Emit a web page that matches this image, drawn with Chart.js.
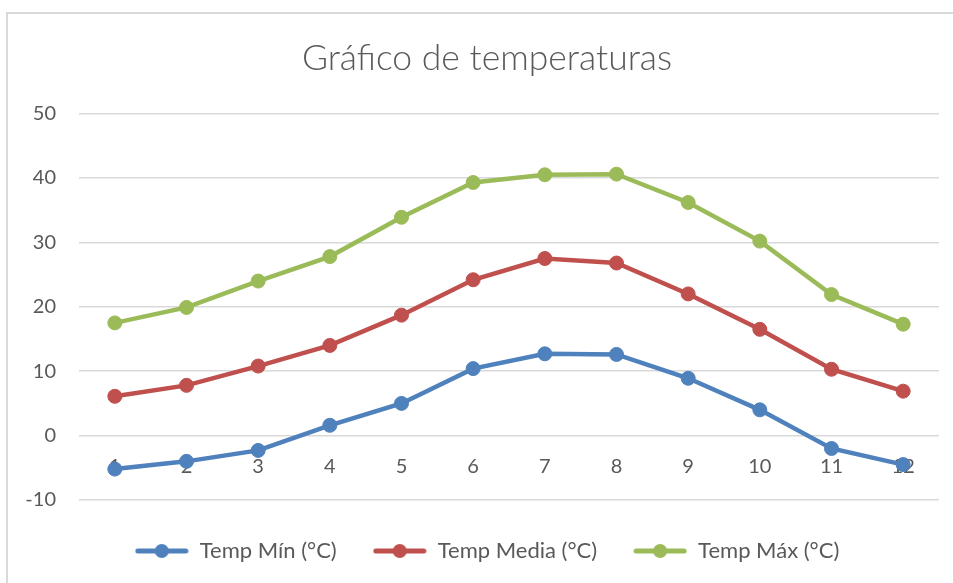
<!DOCTYPE html>
<html>
<head>
<meta charset="utf-8">
<script src="https://cdn.jsdelivr.net/npm/chart.js@4"></script>
<style>
  html, body { margin: 0; padding: 0; background: #fff; }
  #wrap { position: relative; width: 953px; height: 583px; }
  #frame { position: absolute; left: 6px; top: 12px; width: 960px; height: 600px;
           border-left: 2px solid #d9d9d9; border-top: 2px solid #d9d9d9; }
  canvas { position: absolute; left: 0; top: 0; }
</style>
</head>
<body>
<div id="wrap">
  <div id="frame"></div>
  <canvas id="line-chart" width="953" height="583"></canvas>
</div>
<script>
const months = ["1", "2", "3", "4", "5", "6", "7", "8", "9", "10", "11", "12"];
const tempMin = [-5.2, -4.0, -2.3, 1.6, 5.0, 10.4, 12.7, 12.6, 8.9, 4.0, -2.0, -4.5];
const tempMedia = [6.1, 7.8, 10.8, 14.0, 18.7, 24.2, 27.5, 26.8, 22.0, 16.5, 10.3, 6.9];
const tempMax = [17.5, 19.9, 24.0, 27.8, 33.9, 39.3, 40.5, 40.6, 36.2, 30.2, 21.9, 17.3];
const seriesNames = ["Temp Mín (°C)", "Temp Media (°C)", "Temp Máx (°C)"];

const textColor = "#595959";
const gridColor = "#d9d9d9";
const fontFamily = "Lato, 'Open Sans', sans-serif";

// legend sample: line with a dot in the middle, like Excel
function legendIcon(color) {
  const c = document.createElement("canvas");
  c.width = 54;
  c.height = 16;
  const g = c.getContext("2d");
  g.strokeStyle = color;
  g.lineWidth = 5;
  g.lineCap = "round";
  g.beginPath();
  g.moveTo(3, 8);
  g.lineTo(51, 8);
  g.stroke();
  g.fillStyle = color;
  g.beginPath();
  g.arc(27, 8, 7, 0, Math.PI * 2);
  g.fill();
  return c;
}

function makeSet(label, data, color) {
  return {
    label,
    data,
    borderColor: color,
    backgroundColor: color,
    borderWidth: 4.5,
    pointRadius: 7,
    pointHoverRadius: 7,
    pointBorderWidth: 1,
    pointStyle: "circle",
    tension: 0,
    legendIcon: legendIcon(color),
  };
}

const ctx = document.getElementById("line-chart").getContext("2d");

new Chart(ctx, {
  type: "line",
  data: {
    labels: months,
    datasets: [
      makeSet(seriesNames[0], tempMin, "#4f81bd"),
      makeSet(seriesNames[1], tempMedia, "#c0504d"),
      makeSet(seriesNames[2], tempMax, "#9bbb59"),
    ],
  },
  options: {
    responsive: false,
    animation: false,
    layout: {
      padding: { left: 21, right: 0, top: 13, bottom: 11 },
    },
    plugins: {
      tooltip: { enabled: false },
      title: {
        display: true,
        text: "Gráfico de temperaturas",
        color: textColor,
        font: { family: fontFamily, size: 35.5, weight: "300" },
        padding: { top: 24, bottom: 34 },
      },
      legend: {
        position: "bottom",
        labels: {
          usePointStyle: true,
          pointStyleWidth: 54,
          color: textColor,
          font: { family: fontFamily, size: 22 },
          padding: 36,
          generateLabels(chart) {
            return chart.data.datasets.map((ds, i) => ({
              text: ds.label,
              pointStyle: ds.legendIcon,
              fillStyle: ds.borderColor,
              strokeStyle: ds.borderColor,
              lineWidth: 0,
              fontColor: textColor,
              datasetIndex: i,
              hidden: false,
            }));
          },
        },
      },
    },
    scales: {
      x: {
        position: { y: 0 },
        offset: true,
        grid: { display: false, drawTicks: false },
        border: { display: false },
        ticks: {
          color: textColor,
          font: { family: fontFamily, size: 20 },
          padding: 18.5,
          maxRotation: 0,
        },
      },
      // empty bottom axis, just a spacer between plot and legend
      xGap: {
        position: "bottom",
        display: true,
        grid: { display: false, drawTicks: false },
        border: { display: false },
        ticks: { display: false },
        afterFit(scale) {
          scale.height = 4;
        },
      },
      y: {
        min: -10,
        max: 50,
        grid: { color: gridColor, lineWidth: 1.5, drawTicks: false },
        border: { display: false },
        ticks: {
          stepSize: 10,
          color: textColor,
          font: { family: fontFamily, size: 20 },
          padding: 23,
        },
        afterFit(scale) {
          scale.width = 58;
        },
      },
      // empty right axis, only keeps a small gap on the right of the plot
      yRight: {
        position: "right",
        display: true,
        grid: { display: false, drawTicks: false },
        border: { display: false },
        ticks: { display: false },
        afterFit(scale) {
          scale.width = 14;
        },
      },
    },
  },
});
</script>
</body>
</html>
